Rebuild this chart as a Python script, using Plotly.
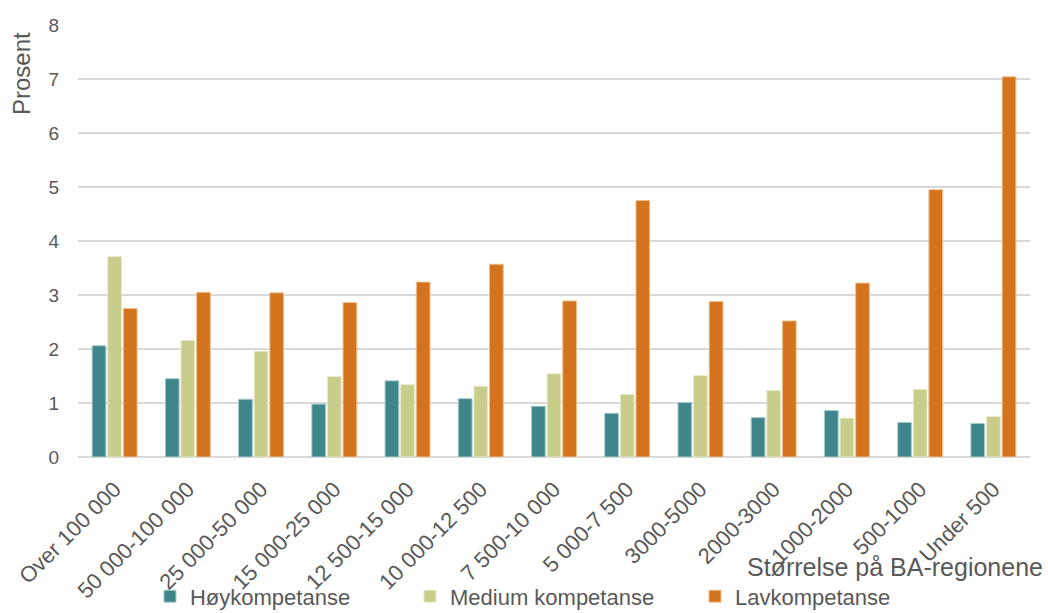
import plotly.graph_objects as go

# Regionstørrelse (BA-regioner) og andel per kompetansenivå, prosent
categories = ["Over 100 000", "50 000-100 000", "25 000-50 000", "15 000-25 000",
              "12 500-15 000", "10 000-12 500", "7 500-10 000", "5 000-7 500",
              "3000-5000", "2000-3000", "1000-2000", "500-1000", "Under 500"]
hoy = [2.06, 1.45, 1.07, 0.98, 1.41, 1.08, 0.94, 0.81, 1.01, 0.73, 0.86, 0.64, 0.62]
medium = [3.71, 2.16, 1.96, 1.49, 1.34, 1.31, 1.54, 1.16, 1.51, 1.23, 0.72, 1.25, 0.75]
lav = [2.75, 3.05, 3.04, 2.86, 3.24, 3.57, 2.89, 4.75, 2.88, 2.52, 3.22, 4.95, 7.04]
y_ticks = [0, 1, 2, 3, 4, 5, 6, 7, 8]

font_family = "Liberation Sans, Arial, sans-serif"
text_grey = "#595959"

series = [
    ("Høykompetanse", hoy, "#3F868A", "#A9CACC", "legend"),
    ("Medium kompetanse", medium, "#C8CD8C", "#E8EBCB", "legend2"),
    ("Lavkompetanse", lav, "#D4731E", "#F2C08F", "legend3"),
]

fig = go.Figure()
for name, vals, color, edge, leg in series:
    fig.add_trace(go.Bar(
        x=categories, y=vals, name=name,
        marker=dict(color=color, line=dict(color=edge, width=1)),
        legend=leg, showlegend=True,
    ))

legend_common = dict(
    orientation="h", yanchor="top", xanchor="left", y=-0.274,
    font=dict(family=font_family, size=22, color=text_grey),
    bgcolor="rgba(0,0,0,0)", itemwidth=30, tracegroupgap=0,
)

fig.update_layout(
    width=1048, height=613,
    margin=dict(l=78, r=18, t=25, b=156, autoexpand=False),
    paper_bgcolor="white", plot_bgcolor="white",
    showlegend=True,
    barmode="group", bargap=0.36, bargroupgap=0.12,
    font=dict(family=font_family, color=text_grey),
    legend=dict(x=0.0756, **legend_common),
    legend2=dict(x=0.3487, **legend_common),
    legend3=dict(x=0.6481, **legend_common),
    xaxis=dict(
        tickangle=-45, tickfont=dict(size=22, color=text_grey),
        showline=False, showgrid=False, ticks="", automargin=False,
        ticklabelstandoff=14,
    ),
    yaxis=dict(
        range=[0, 8], tickvals=y_ticks, showgrid=True,
        gridcolor="#D9D9D9", gridwidth=1.5, zeroline=True,
        zerolinecolor="#D9D9D9", zerolinewidth=1.5,
        tickfont=dict(size=19, color=text_grey), ticks="", ticklen=0,
        ticklabelstandoff=18, automargin=False,
    ),
    annotations=[
        dict(text="Prosent", textangle=-90, xref="paper", yref="paper",
             x=-0.0588, y=0.8866, xanchor="center", yanchor="middle",
             showarrow=False, font=dict(size=24, color=text_grey)),
        dict(text="Størrelse på BA-regionene", xref="paper", yref="paper",
             x=1.0158, y=-0.2546, xanchor="right", yanchor="middle",
             showarrow=False, font=dict(size=25, color=text_grey)),
    ],
)

fig.write_html("out.html")
